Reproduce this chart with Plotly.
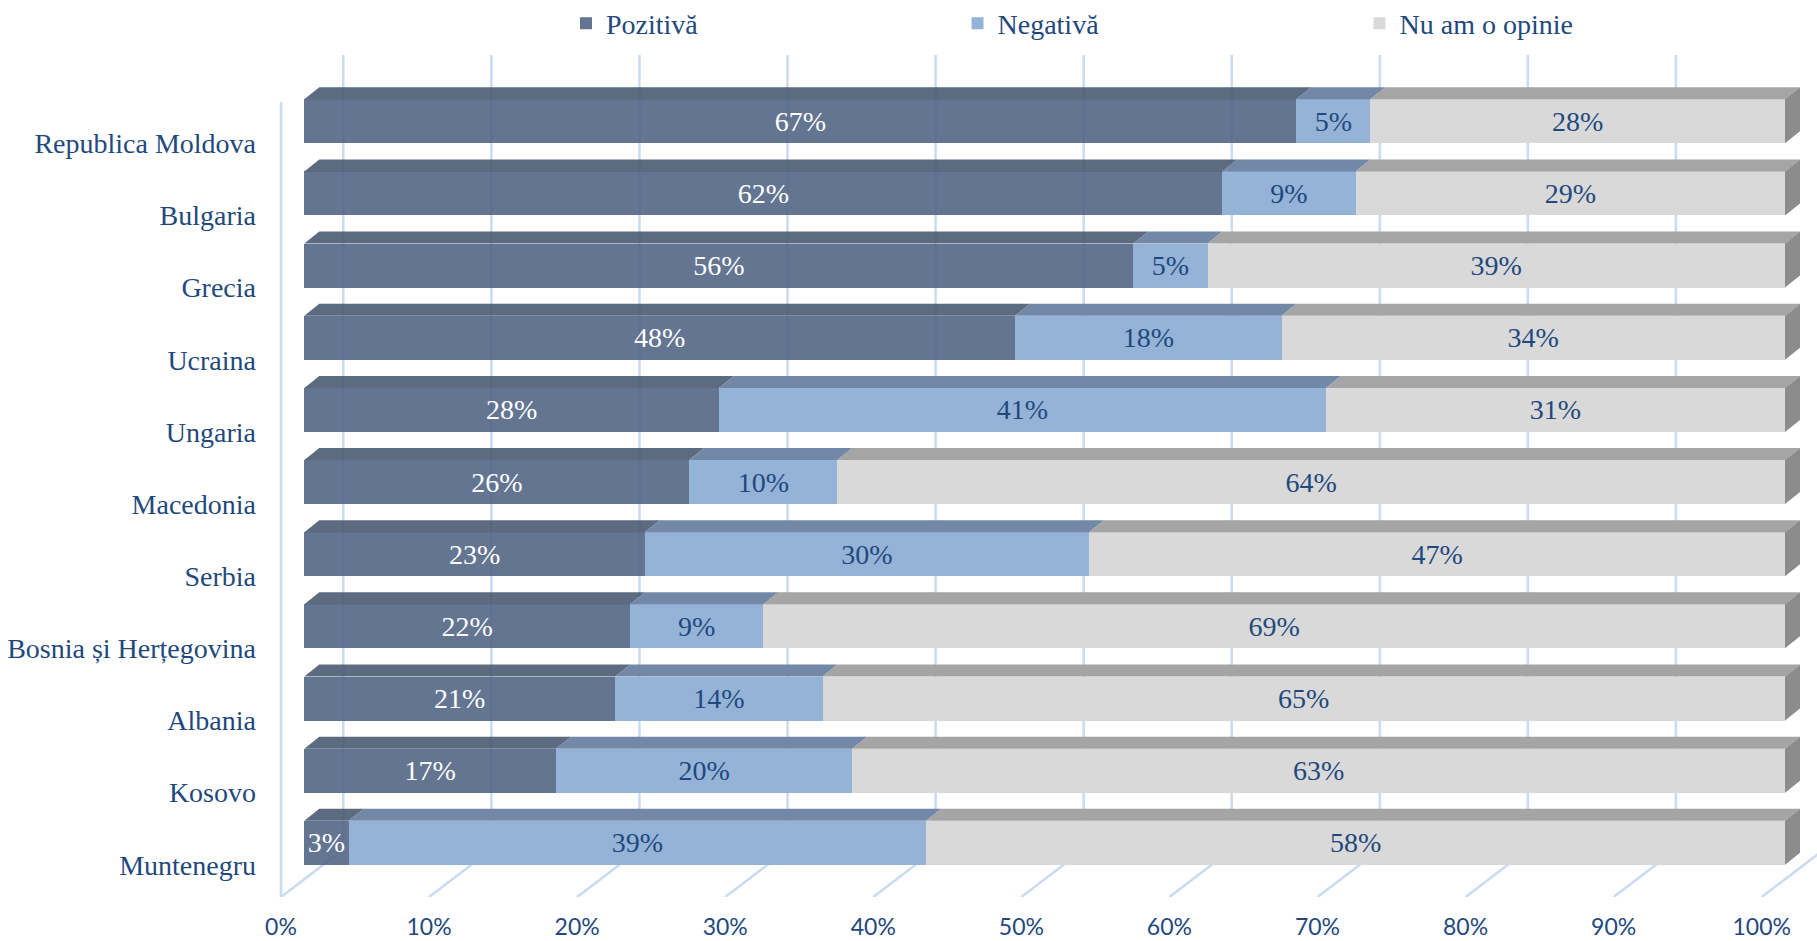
import plotly.graph_objects as go

# data
countries = ["Republica Moldova", "Bulgaria", "Grecia", "Ucraina", "Ungaria", "Macedonia",
             "Serbia", "Bosnia și Herțegovina", "Albania", "Kosovo", "Muntenegru"]
pozitiva = [67, 62, 56, 48, 28, 26, 23, 22, 21, 17, 3]
negativa = [5, 9, 5, 18, 41, 10, 30, 9, 14, 20, 39]
nu_am = [28, 29, 39, 34, 31, 64, 47, 69, 65, 63, 58]
x_ticks = [0, 10, 20, 30, 40, 50, 60, 70, 80, 90, 100]

series = [
    # name, values, front colour, top colour, text colour, legend id, legend x (px)
    ("Pozitivă", pozitiva, "rgba(78,98,130,0.88)", "rgba(69,87,110,0.88)", "white", "legend", 566),
    ("Negativă", negativa, "#95b3d7", "#7288a6", "#1f497d", "legend2", 957.5),
    ("Nu am o opinie", nu_am, "#d9d9d9", "#a5a5a5", "#1f497d", "legend3", 1359.5),
]
SIDE_COLOR = "#8c8c8c"
GRID = "#c9dbf1"
TXT = "#1f497d"
SERIF = "Liberation Serif"

# pseudo-3d geometry (pixels -> axis units)
WIDTH, H = 1817, 941
PX_X = 1480.7          # px per 100%
PX_Y = 72.15           # px per row
ROW0 = 121.3           # pixel centre of first row
W = 44 / PX_Y          # bar thickness
DX, DY = 15 / PX_X, 12 / PX_Y
FRONT, BACK = -23.3 / PX_X, 39 / PX_X
L_MARGIN, B_MARGIN = 262, 44


def ypx(p):
    return (p - ROW0) / PX_Y


y_floor_front = ypx(H - B_MARGIN)
y_floor_back = ypx(849.5)
y_wall_top = ypx(55)
x_lo = -(304.3 - L_MARGIN) / PX_X
x_hi = (WIDTH - 304.3) / PX_X

rows = list(range(len(countries)))
fig = go.Figure()

legends = {}
cum = [0.0] * len(rows)
for name, vals, front, top, tc, leg, lx in series:
    fig.add_trace(go.Bar(
        name=name, y=rows, x=[v / 100 for v in vals], orientation="h", width=W,
        marker=dict(color=front, line=dict(width=0)), legend=leg,
        text=[f"{v}%" for v in vals], textposition="inside", insidetextanchor="middle",
        constraintext="none", textangle=0,
        textfont=dict(family=SERIF, size=28, color=tc),
    ))
    legends[leg] = dict(xref="container", yref="container", x=lx / WIDTH, y=1 - 23.5 / H,
                        xanchor="left", yanchor="middle", bgcolor="rgba(0,0,0,0)",
                        font=dict(family=SERIF, size=28, color=TXT))
    # top face of each segment
    px, py = [], []
    for i, v in zip(rows, vals):
        x0 = cum[i]
        x1 = x0 + v / 100
        t = i - W / 2
        px += [x0, x1, x1 + DX, x0 + DX, x0, None]
        py += [t, t, t - DY, t - DY, t, None]
        cum[i] = x1
    fig.add_trace(go.Scatter(x=px, y=py, mode="lines", fill="toself", fillcolor=top,
                             line=dict(width=0), hoverinfo="skip", showlegend=False))

# right side of the stacked bars
sx, sy = [], []
for i in rows:
    t = i - W / 2
    sx += [cum[i], cum[i] + DX, cum[i] + DX, cum[i], cum[i], None]
    sy += [t, t - DY, t + W - DY, t + W, t, None]
fig.add_trace(go.Scatter(x=sx, y=sy, mode="lines", fill="toself", fillcolor=SIDE_COLOR,
                         line=dict(width=0), hoverinfo="skip", showlegend=False))

# back wall grid, floor lines and left edge
shapes = []
for t in x_ticks:
    xb = t / 100 + BACK
    xf = t / 100 + FRONT
    shapes.append(dict(type="line", layer="below", xref="x", yref="y",
                       x0=xb, x1=xb, y0=y_floor_back, y1=y_wall_top,
                       line=dict(color=GRID, width=2.5)))
    shapes.append(dict(type="line", layer="below", xref="x", yref="y",
                       x0=xf, x1=xb, y0=y_floor_front, y1=y_floor_back,
                       line=dict(color=GRID, width=2.5)))
shapes.append(dict(type="line", layer="below", xref="x", yref="y",
                   x0=FRONT, x1=FRONT, y0=y_floor_front, y1=ypx(102),
                   line=dict(color=GRID, width=2.5)))

fig.update_layout(
    width=WIDTH, height=H,
    barmode="stack",
    plot_bgcolor="white", paper_bgcolor="white",
    margin=dict(l=L_MARGIN, r=0, t=0, b=B_MARGIN, autoexpand=False),
    shapes=shapes,
    showlegend=True,
    **legends,
    xaxis=dict(range=[x_lo, x_hi], showgrid=False, zeroline=False, showline=False,
               tickvals=[t / 100 + FRONT for t in x_ticks],
               ticktext=[f"{t}%" for t in x_ticks], ticks="",
               ticklabelstandoff=14,
               tickfont=dict(family="Lato", size=23, color=TXT)),
    yaxis=dict(range=[y_floor_front, ypx(0)], showgrid=False, zeroline=False, showline=False,
               tickvals=[i + W / 2 for i in rows], ticktext=countries, ticks="",
               ticklabelstandoff=5,
               tickfont=dict(family=SERIF, size=28, color=TXT)),
)

fig.write_html("out.html", config={"displayModeBar": False},
               post_script="document.body.style.margin='0';")
